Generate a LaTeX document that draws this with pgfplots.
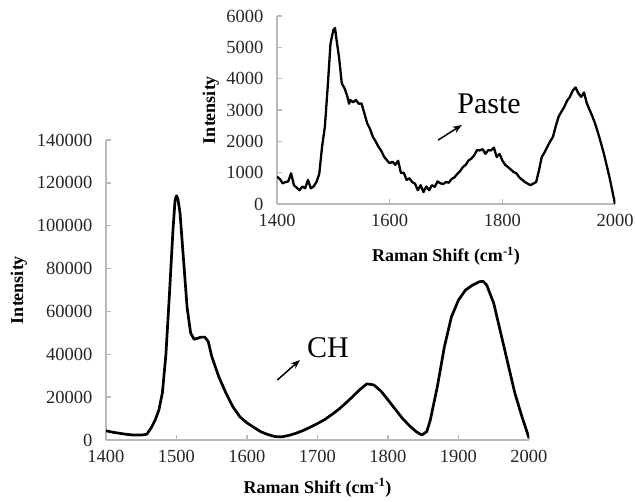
\documentclass[border=0pt]{standalone}
\usepackage{pgfplots}
\pgfplotsset{compat=1.18}
\usepackage{fontspec}
\setmainfont{Liberation Serif}
\usetikzlibrary{arrows.meta}
\definecolor{axgray}{RGB}{185,185,185}

\pgfplotsset{raman/.style={
  scale only axis,
  axis lines*=left,
  axis line style={axgray, line width=1.3pt},
  tick style={axgray, line width=1.3pt},
  tick align=inside,
  major tick length=5pt,
  xmin=1400, xmax=2000, ymin=0,
  /pgf/number format/fixed,
  /pgf/number format/precision=0,
  /pgf/number format/assume math mode=true,
  /pgf/number format/1000 sep={},
  scaled y ticks=false,
  scaled x ticks=false,
  ticklabel style={font=\fontsize{18.5}{20}\selectfont, text=black!85},
  xticklabel shift=7pt,
  yticklabel shift=10pt,
  label style={font=\bfseries\fontsize{18}{20}\selectfont},
}}

\begin{document}
\begin{tikzpicture}
\path[use as bounding box] (-106pt,-61pt) rectangle (530pt,440pt);
% main axis
\begin{axis}[raman,
  at={(0pt,0pt)}, anchor=south west,
  width=423pt, height=300pt,
  ymax=140000,
  xtick={1400,1500,...,2000},
  ytick={0,20000,...,140000},
  xlabel={Raman Shift (cm\textsuperscript{-1})},
  ylabel={Intensity},
  xlabel style={at={(axis description cs:0.5,-0.1767)}, anchor=base},
  ylabel style={at={(axis description cs:-0.196,0.5)}, anchor=base, rotate=0},
]
\addplot[black, line width=2.7pt, line join=round] coordinates {
(1400,4300) (1410,3600) (1420,3100) (1430,2600) (1440,2300) (1450,2300)
(1458,2700) (1465,6200) (1470,9500) (1475,14000) (1480,22000) (1485,40000)
(1490,68000) (1495,98000) (1498,112000) (1500,114000) (1502,112500) (1505,106000)
(1510,84000) (1515,62000) (1520,50000) (1525,47000) (1530,47500) (1535,48000)
(1540,48000) (1545,46000) (1550,39000) (1560,29500) (1570,22000) (1580,15500)
(1590,10800) (1600,8000) (1610,5800) (1620,3800) (1630,2500) (1640,1600)
(1650,1500) (1660,2200) (1670,3200) (1680,4500) (1690,6000) (1700,7700)
(1710,9500) (1720,11800) (1730,14300) (1740,17200) (1750,20300) (1760,23500)
(1770,26200) (1780,25700) (1790,22800) (1800,18700) (1810,14500) (1820,10300)
(1830,6800) (1840,3900) (1848,2300) (1855,3900) (1860,9300) (1870,24900)
(1880,43500) (1890,57500) (1900,65300) (1910,70000) (1920,72300) (1930,73900)
(1935,74000) (1940,72300) (1950,63800) (1960,49800) (1970,35800) (1980,21800)
(1990,10900) (2000,900)
};
\draw[-{Stealth[length=9pt,width=7pt]}, line width=1.5pt] (axis cs:1643,28000) -- (axis cs:1675,37300);
\node[anchor=base west, inner sep=0pt, font=\fontsize{30}{32}\selectfont] at (axis cs:1685,38300) {CH};
\end{axis}
% inset
\begin{axis}[raman,
  at={(171pt,236pt)}, anchor=south west,
  width=338pt, height=188pt,
  ymax=6000,
  xtick={1400,1600,1800,2000},
  ytick={0,1000,...,6000},
  xlabel={Raman Shift (cm\textsuperscript{-1})},
  ylabel={Intensity},
  xlabel style={at={(axis description cs:0.5,-0.3085)}, anchor=base},
  ylabel style={at={(axis description cs:-0.183,0.5)}, anchor=base, rotate=0},
]
\addplot[black, line width=2.3pt, line join=round] coordinates {
(1400,870) (1405,800) (1410,660) (1415,700) (1420,720) (1425,980) (1430,600)
(1435,520) (1440,440) (1445,560) (1450,500) (1455,770) (1460,500) (1465,560)
(1470,700) (1475,960) (1480,1830) (1485,2470) (1490,3740) (1495,5120)
(1500,5550) (1503,5620) (1505,5330) (1510,4700) (1515,3850) (1520,3690)
(1525,3420) (1528,3200) (1530,3320) (1535,3250) (1540,3320) (1545,3200)
(1550,3210) (1555,2900) (1560,2580) (1565,2400) (1570,2150) (1575,2000)
(1580,1830) (1585,1700) (1590,1510) (1595,1400) (1600,1300) (1605,1350)
(1610,1250) (1615,1380) (1620,990) (1625,1000) (1630,770) (1635,820)
(1640,700) (1645,650) (1650,440) (1655,600) (1660,380) (1665,560)
(1670,440) (1675,600) (1680,550) (1685,720) (1690,660) (1695,640)
(1700,700) (1705,680) (1710,800) (1715,850) (1720,960) (1725,1050)
(1730,1180) (1735,1250) (1740,1390) (1745,1450) (1750,1550) (1755,1720)
(1760,1710) (1765,1750) (1770,1600) (1775,1720) (1780,1710) (1785,1800)
(1790,1500) (1795,1600) (1800,1390) (1805,1250) (1810,1180) (1815,1100)
(1820,1020) (1825,980) (1830,850) (1835,780) (1840,700) (1845,650)
(1850,600) (1855,650) (1860,700) (1865,1070) (1870,1500) (1875,1650)
(1880,1830) (1885,2000) (1890,2150) (1895,2500) (1900,2790) (1905,2950)
(1910,3100) (1915,3300) (1920,3420) (1925,3620) (1930,3720) (1935,3530)
(1940,3420) (1945,3560) (1950,3210) (1955,3000) (1960,2790) (1965,2550)
(1970,2260) (1975,1950) (1980,1620) (1985,1250) (1990,870) (1995,440)
(2000,0)
};
\draw[-{Stealth[length=9pt,width=7pt]}, line width=1.5pt] (axis cs:1686,2040) -- (axis cs:1728,2520);
\node[anchor=base west, inner sep=0pt, font=\fontsize{30}{32}\selectfont] at (axis cs:1720,2900) {Paste};
\end{axis}
\end{tikzpicture}
\end{document}
